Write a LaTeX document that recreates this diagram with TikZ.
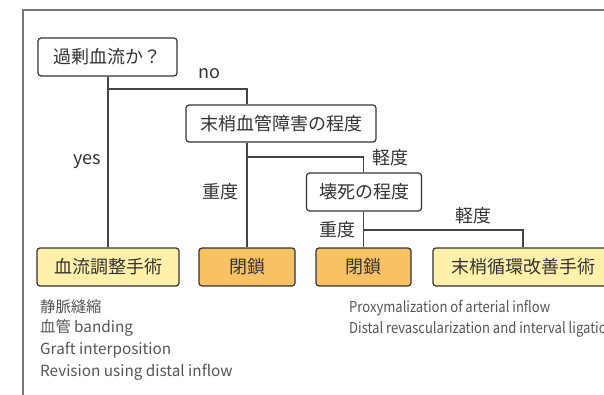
\documentclass[tikz,border=0pt]{standalone}
\usepackage{fontspec}
\setmainfont{Noto Sans CJK JP}
\newfontfamily\narrowfont[FakeStretch=0.87]{Noto Sans CJK JP}
\definecolor{boxline}{HTML}{333333}
\definecolor{conn}{HTML}{444444}
\definecolor{yelfill}{HTML}{FFF0AA}
\definecolor{orafill}{HTML}{F8C264}
\definecolor{txt}{HTML}{333333}
\definecolor{listtxt}{HTML}{555555}
\definecolor{frame}{HTML}{777777}
\tikzset{
  bx/.style={draw=boxline, line width=1.2pt, rounded corners=3pt, fill=white,
    inner sep=0pt, text=txt, font=\fontsize{18}{21}\selectfont, minimum height=38pt},
  yel/.style={bx, fill=yelfill},
  ora/.style={bx, fill=orafill},
  cn/.style={draw=conn, line width=1.2pt},
  lbl/.style={text=txt, font=\fontsize{18}{21}\selectfont, inner sep=0pt},
  lst/.style={text=listtxt, font=\fontsize{15.3}{18}\selectfont, inner sep=0pt, anchor=west},
  lstn/.style={text=listtxt, font=\narrowfont\fontsize{15}{18}\selectfont, inner sep=0pt, anchor=west},
}
\begin{document}
\begin{tikzpicture}[x=1pt,y=-1pt]
\useasboundingbox (0,0) rectangle (604,395);
\draw[frame, line width=1.3pt] (23,400) -- (23,10) -- (610,10);
% boxes
\node[bx, minimum width=139pt] (b1) at (107.5,57) {過剰血流か？};
\node[bx, minimum width=190pt, minimum height=37pt] (b2) at (281,123.5) {末梢血管障害の程度};
\node[bx, minimum width=115pt] (b3) at (364,192) {壊死の程度};
\node[yel, minimum width=142pt] (ba) at (108,267) {血流調整手術};
\node[ora, minimum width=96pt] (bb) at (247,267) {閉鎖};
\node[ora, minimum width=95pt] (bc) at (363.5,267) {閉鎖};
\node[yel, minimum width=180pt] (bd) at (523,267) {末梢循環改善手術};
% junction levels
\coordinate (j1) at (0,89);
\coordinate (j2) at (0,157);
\coordinate (j3) at (0,230);
% connectors
\draw[cn] (b1.south -| ba.north) -- (ba.north);
\draw[cn] (j1 -| ba.north) -| (b2.north -| bb.north);
\draw[cn] (b2.south -| bb.north) -- (bb.north);
\draw[cn] (j2 -| bb.north) -| (b3.north -| bc.north);
\draw[cn] (b3.south -| bc.north) -- (bc.north);
\draw[cn] (j3 -| bc.north) -| (bd.north);
% labels
\node[lbl] (lno) at (209,74) {no};
\node[lbl] (lyes) at (87,162) {yes};
\node[lbl] (ls1) at (220,192) {重度};
\node[lbl] (lk1) at (390,158) {軽度};
\node[lbl] (ls2) at (337,230) {重度};
\node[lbl] (lk2) at (473,216) {軽度};
% lists
\node[lst] (a1) at (40,307) {静脈縫縮};
\node[lst] (a2) at (40,328) {血管 banding};
\node[lst] (a3) at (40,350) {Graft interposition};
\node[lst] (a4) at (40,372) {Revision using distal inflow};
\node[lstn] (c1) at (349,308) {Proxymalization of arterial inflow};
\node[lstn] (c2) at (349,329) {Distal revascularization and interval ligation};
\end{tikzpicture}
\end{document}
